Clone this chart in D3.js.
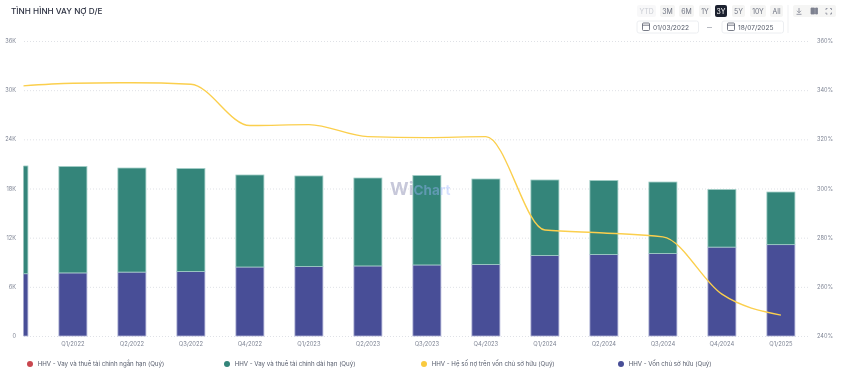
<!DOCTYPE html>
<html>
<head>
<meta charset="utf-8">
<script src="https://cdn.jsdelivr.net/npm/d3@7"></script>
<style>
    html, body { margin: 0; padding: 0; background: #fff; }
    /* the reference is a slightly soft screenshot */
    svg { display: block; font-family: Inter, "Noto Sans", sans-serif; filter: blur(0.3px); }
</style>
</head>
<body>
<svg class="chart"></svg>
<script>
// the first quarter is cut off by the left edge of the plot
var quarters = ['Q4/2021', 'Q1/2022', 'Q2/2022', 'Q3/2022', 'Q4/2022', 'Q1/2023', 'Q2/2023', 'Q3/2023', 'Q4/2023', 'Q1/2024', 'Q2/2024', 'Q3/2024', 'Q4/2024', 'Q1/2025'];
var equity = [7.6, 7.7, 7.8, 7.87, 8.42, 8.48, 8.55, 8.67, 8.73, 9.83, 9.95, 10.07, 10.85, 11.15];
var longTermDebt = [13.15, 12.99, 12.7, 12.57, 11.23, 11.05, 10.73, 10.92, 10.43, 9.21, 9.03, 8.72, 7.03, 6.42];
var shortTermDebt = [0, 0, 0, 0, 0, 0, 0, 0, 0, 0, 0, 0, 0, 0];
var debtRatio = [341.5, 342.8, 343, 342.4, 325.6, 326, 321.1, 320.7, 321.1, 283.1, 281.9, 280.3, 257, 248.5];

var leftTicks = [0, 6, 12, 18, 24, 30, 36];
var rightTicks = [240, 260, 280, 300, 320, 340, 360];
var rangeButtons = ['YTD', '3M', '6M', '1Y', '3Y', '5Y', '10Y', 'All'];
var dates = ['01/03/2022', '18/07/2025'];
var legendNames = ['HHV - Vay và thuê tài chính ngắn hạn (Quý)', 'HHV - Vay và thuê tài chính dài hạn (Quý)', 'HHV - Hệ số nợ trên vốn chủ sở hữu (Quý)', 'HHV - Vốn chủ sở hữu (Quý)'];
var legendColors = ['#c9474f', '#34857a', '#f9ca3f', '#484e97'];

var width = 848, height = 376;
var plot = { left: 24, right: 810, top: 41, bottom: 336 };

var svg = d3.select('.chart').attr('width', width).attr('height', height);

svg.append('defs').append('clipPath').attr('id', 'plot-clip')
    .append('rect')
    .attr('x', plot.left - 0.5).attr('y', 0)
    .attr('width', plot.right - plot.left).attr('height', height);

// one band per quarter, 59px apart, with Q1/2022 centered near x=72.5
var x = d3.scaleBand()
    .domain(quarters)
    .range([-15.6, -15.6 + 59 * quarters.length])
    .paddingInner(0.525)
    .paddingOuter(0.2625);
var center = function (q) { return x(q) + x.bandwidth() / 2; };

var yLeft = d3.scaleLinear().domain([0, 36]).range([plot.bottom, plot.top]);
var yRight = d3.scaleLinear().domain([240, 360]).range([plot.bottom, plot.top]);

// title
svg.append('text')
    .attr('x', 11).attr('y', 14)
    .attr('font-size', 8.2).attr('font-weight', 500).attr('fill', '#2b3040')
    .text('TÌNH HÌNH VAY NỢ D/E');

// gridlines, very faint dots
svg.append('g').selectAll('line').data(leftTicks).enter().append('line')
    .attr('x1', plot.left).attr('x2', plot.right)
    .attr('y1', function (d) { return yLeft(d) + 0.5; })
    .attr('y2', function (d) { return yLeft(d) + 0.5; })
    .attr('stroke', '#dfe1e6').attr('stroke-dasharray', '1,2');

// bars, stacked from the bottom up
var bars = svg.append('g').attr('clip-path', 'url(#plot-clip)');
var stacks = [
    { values: equity, below: null, fill: '#484e97', edge: '#b4b7d8' },
    { values: longTermDebt, below: equity, fill: '#34857a', edge: '#a3cfc8' }
];
stacks.forEach(function (s) {
    bars.append('g').selectAll('rect').data(quarters).enter().append('rect')
        .attr('x', function (d) { return x(d); })
        .attr('width', x.bandwidth())
        .attr('y', function (d, i) {
            var base = s.below ? s.below[i] : 0;
            return yLeft(base + s.values[i]);
        })
        .attr('height', function (d, i) { return yLeft(0) - yLeft(s.values[i]); })
        .attr('fill', s.fill)
        .attr('stroke', s.edge)
        .attr('stroke-width', 0.8);
});

// short term debt is empty in this period but it stays in the stack
bars.append('g').selectAll('rect').data(quarters).enter().append('rect')
    .attr('x', function (d) { return x(d); })
    .attr('width', x.bandwidth())
    .attr('y', function (d, i) { return yLeft(equity[i] + longTermDebt[i] + shortTermDebt[i]); })
    .attr('height', function (d, i) { return yLeft(0) - yLeft(shortTermDebt[i]); })
    .attr('fill', legendColors[0]);

// watermark sits on top of the bars, under the line
var mark = svg.append('text')
    .attr('x', 390).attr('y', 195)
    .attr('font-weight', 700);
mark.append('tspan').attr('font-size', 18).attr('fill', '#8f91b5').attr('fill-opacity', 0.5).text('Wi');
mark.append('tspan').attr('font-size', 13.5).attr('fill', '#9db4ff').attr('fill-opacity', 0.42).text('Chart');

// ratio line
var line = d3.line()
    .x(function (d) { return center(d); })
    .y(function (d, i) { return yRight(debtRatio[i]); })
    .curve(d3.curveMonotoneX);

bars.append('path')
    .attr('d', line(quarters))
    .attr('fill', 'none')
    .attr('stroke', '#fbcf4d')
    .attr('stroke-width', 1.4);

// axis labels
var tickColor = '#7e8494';
svg.append('g').selectAll('text').data(leftTicks).enter().append('text')
    .attr('x', 16).attr('y', function (d) { return yLeft(d) + 2; })
    .attr('text-anchor', 'end').attr('font-size', 5.6).attr('fill', tickColor)
    .text(function (d) { return d === 0 ? '0' : d + 'K'; });

svg.append('g').selectAll('text').data(rightTicks).enter().append('text')
    .attr('x', 817).attr('y', function (d) { return yRight(d) + 2; })
    .attr('font-size', 5.6).attr('fill', tickColor)
    .text(function (d) { return d + '%'; });

svg.append('g').selectAll('text').data(quarters.slice(1)).enter().append('text')
    .attr('x', center).attr('y', 346.3)
    .attr('text-anchor', 'middle').attr('font-size', 5.8).attr('fill', tickColor)
    .text(function (d) { return d; });

// legend
var legendX = [30, 227, 424, 621];
var legend = svg.append('g').selectAll('g').data(legendNames).enter().append('g')
    .attr('transform', function (d, i) { return 'translate(' + legendX[i] + ',364)'; });
legend.append('circle').attr('r', 3)
    .attr('fill', function (d, i) { return legendColors[i]; });
legend.append('text')
    .attr('x', 7.7).attr('y', 2)
    .attr('font-size', 6.15).attr('fill', '#565c6c')
    .text(function (d) { return d; });

// range buttons
var buttonX = [637, 660, 679, 699, 715, 732, 750, 770];
var buttonW = [19, 15, 15, 12, 12, 13, 16, 13];
var buttons = svg.append('g').selectAll('g').data(rangeButtons).enter().append('g')
    .attr('transform', function (d, i) { return 'translate(' + buttonX[i] + ',5)'; });
buttons.append('rect')
    .attr('width', function (d, i) { return buttonW[i]; })
    .attr('height', 12).attr('rx', 2)
    .attr('fill', function (d) { return d === '3Y' ? '#1d2230' : d === 'YTD' ? '#f8f8f9' : '#f5f5f4'; });
buttons.append('text')
    .attr('x', function (d, i) { return buttonW[i] / 2; }).attr('y', 8.8)
    .attr('text-anchor', 'middle').attr('font-size', 6.9)
    .attr('fill', function (d) { return d === '3Y' ? '#ffffff' : d === 'YTD' ? '#c9ccd3' : '#6d7280'; })
    .text(function (d) { return d; });

// date pickers
var dateX = [637, 722];
var pickers = svg.append('g').selectAll('g').data(dates).enter().append('g')
    .attr('transform', function (d, i) { return 'translate(' + dateX[i] + ',21)'; });
pickers.append('rect')
    .attr('width', 61.5).attr('height', 12).attr('rx', 2)
    .attr('fill', '#fff').attr('stroke', '#eceef1');
pickers.append('rect')
    .attr('x', 5.5).attr('y', 2).attr('width', 7).attr('height', 7.5).attr('rx', 1)
    .attr('fill', 'none').attr('stroke', '#555b69').attr('stroke-width', 0.8);
pickers.append('line')
    .attr('x1', 5.5).attr('x2', 12.5).attr('y1', 4.2).attr('y2', 4.2)
    .attr('stroke', '#555b69').attr('stroke-width', 0.8);
pickers.append('text')
    .attr('x', 16).attr('y', 8.6)
    .attr('font-size', 6.6).attr('fill', '#555b69')
    .text(function (d) { return d; });
svg.append('line')
    .attr('x1', 707).attr('x2', 712).attr('y1', 27.5).attr('y2', 27.5)
    .attr('stroke', '#a4a8b3').attr('stroke-width', 0.8);

// separator and the three small tool buttons
svg.append('line')
    .attr('x1', 788).attr('x2', 788).attr('y1', 5).attr('y2', 33)
    .attr('stroke', '#f0f1f3');
svg.append('rect')
    .attr('x', 793).attr('y', 5).attr('width', 43).attr('height', 12).attr('rx', 2)
    .attr('fill', '#f5f5f4');
var iconColor = '#7d8290';
var icons = svg.append('g').attr('fill', 'none').attr('stroke', iconColor).attr('stroke-width', 0.8);
// download arrow
icons.append('path').attr('d', 'M799 8V12.5M797 10.8L799 12.8L801 10.8M796.5 14.3H801.5');
// data table
icons.append('path').attr('d', 'M811 8H814.5V14H811ZM815.5 8H817.5V14H815.5Z').attr('fill', iconColor);
// fullscreen corners
icons.append('path').attr('d', 'M826 10V8.5H827.5M830 8.5H831.5V10M831.5 12.5V14H830M827.5 14H826V12.5');
</script>
</body>
</html>
